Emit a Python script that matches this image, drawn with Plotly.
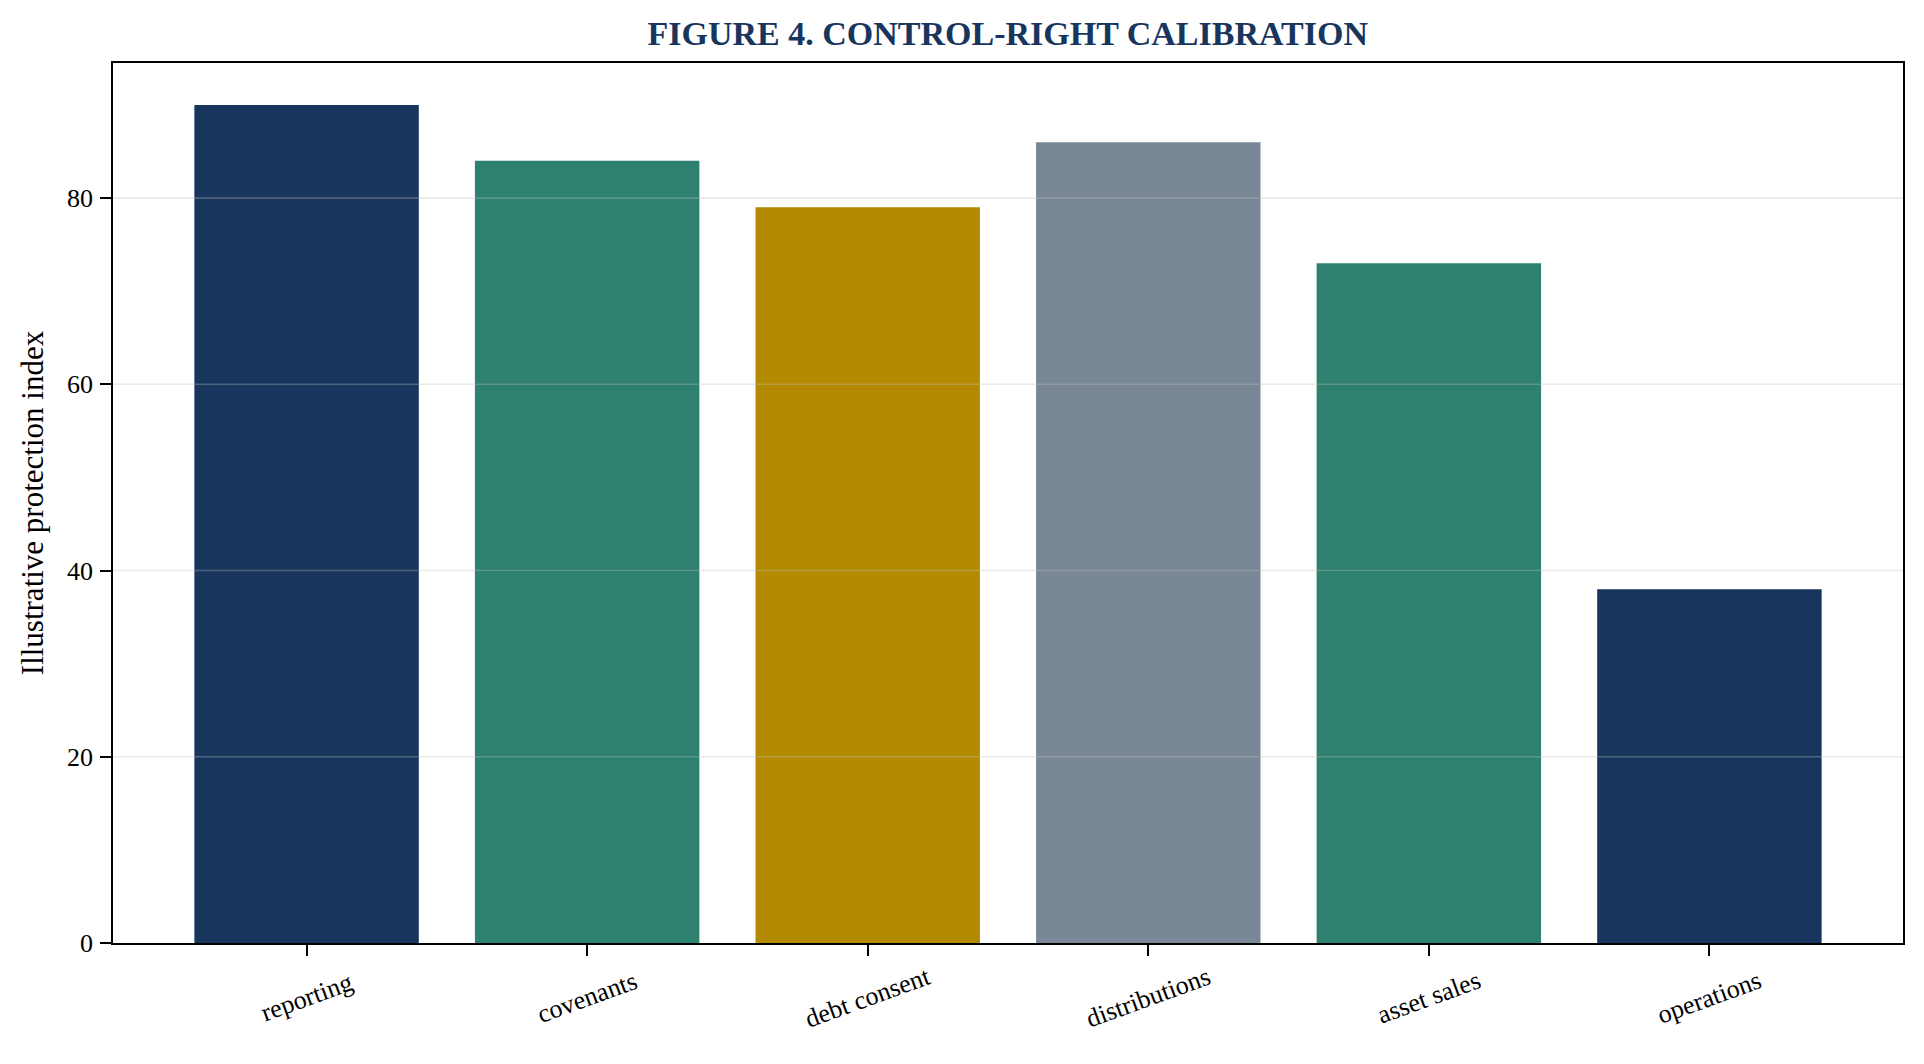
import plotly.graph_objects as go

categories = ["reporting", "covenants", "debt consent", "distributions", "asset sales", "operations"]
values = [90, 84, 79, 86, 73, 38]
bar_colors = ["#18365d", "#2e806f", "#b38a00", "#7a8796", "#2e806f", "#18365d"]
ytick_vals = [0, 20, 40, 60, 80]
title_text = "FIGURE 4. CONTROL-RIGHT CALIBRATION"
ylabel_text = "Illustrative protection index"

FONT = "Liberation Serif"
W, H = 1924, 1064
OFF = 8  # page body margin in the browser
L, R, T, B = 112.5 - OFF, 21 + OFF, 63 - OFF, 121 + OFF

fig = go.Figure()
fig.add_trace(go.Bar(
    x=list(range(len(categories))),
    y=values,
    marker=dict(color=bar_colors, line=dict(width=0)),
    width=0.8,
    showlegend=False,
    hoverinfo="x+y",
))

# grid lines drawn above the bars (semi-transparent), as in the reference
for v in ytick_vals[1:]:
    fig.add_shape(type="line", xref="paper", yref="y", x0=0, x1=1, y0=v, y1=v,
                  line=dict(color="rgba(190,190,190,0.33)", width=1.7), layer="above")

# rotated category labels centred under each tick
for i, c in enumerate(categories):
    fig.add_annotation(x=i, xref="x", y=0, yref="paper", text=c, showarrow=False,
                       textangle=-20, xanchor="center", yanchor="middle", yshift=-54,
                       font=dict(family=FONT, size=26, color="black"))

fig.update_layout(
    width=W, height=H,
    margin=dict(l=L, r=R, t=T, b=B, autoexpand=False),
    paper_bgcolor="white", plot_bgcolor="white",
    title=dict(text="<b>" + title_text + "</b>", x=(L + (W - R)) / 2 / W, xanchor="center",
               y=1 - (33 - OFF) / H, yanchor="middle", yref="container",
               font=dict(family=FONT, size=34, color="#18365d")),
    font=dict(family=FONT, size=26, color="black"),
    bargap=0.2,
)
fig.update_xaxes(
    range=[-0.69, len(categories) - 1 + 0.69],
    tickmode="array", tickvals=list(range(len(categories))), showticklabels=False,
    ticks="outside", ticklen=11, tickwidth=1.8, tickcolor="black",
    showline=True, linecolor="black", linewidth=1.8, mirror=True,
    showgrid=False, zeroline=False,
)
fig.update_yaxes(
    range=[0, 94.5],
    tickmode="array", tickvals=ytick_vals, ticktext=[str(v) for v in ytick_vals],
    ticks="outside", ticklen=11, tickwidth=1.8, tickcolor="black",
    tickfont=dict(family=FONT, size=26, color="black"),
    ticklabelstandoff=2,
    showline=True, linecolor="black", linewidth=1.8, mirror=True,
    showgrid=False, zeroline=False,
    title=dict(text=ylabel_text, font=dict(family=FONT, size=31, color="black"), standoff=14),
)

fig.write_html("out.html")
